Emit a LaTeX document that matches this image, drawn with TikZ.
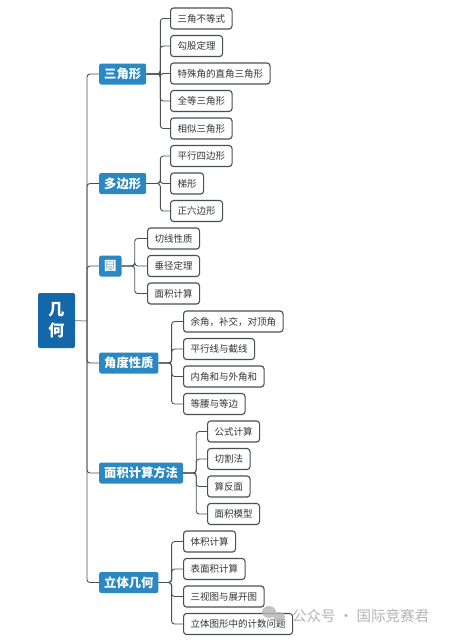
\documentclass[tikz,border=0pt]{standalone}
\usepackage{fontspec}
\setmainfont{Noto Sans CJK SC}
\definecolor{rootblue}{HTML}{1467A8}
\definecolor{mainblue}{HTML}{2A88C2}
\definecolor{boxgray}{HTML}{4A4F55}
\definecolor{markgray}{HTML}{B4B4B4}

\begin{document}
\begin{tikzpicture}[x=1pt,y=-1pt,
    root/.style={rectangle,rounded corners=2pt,fill=rootblue,text=white,font=\bfseries\fontsize{16}{21}\selectfont,minimum width=37pt,minimum height=55pt,align=center,inner sep=0pt},
    topic/.style={rectangle,rounded corners=2pt,fill=mainblue,text=white,font=\bfseries\fontsize{12.3}{14}\selectfont,minimum height=21pt,inner xsep=5pt,inner ysep=0pt,anchor=west},
    leaf/.style={rectangle,rounded corners=3pt,draw=boxgray,line width=1.1pt,fill=white,text=black!80,font=\fontsize{9.5}{11}\selectfont,minimum height=21pt,inner xsep=7pt,inner ysep=0pt,anchor=west},
    link/.style={draw=boxgray,line width=0.9pt,rounded corners=3pt},
    rootlink/.style={draw=black!40,line width=1pt}]
  \useasboundingbox (0,0) rectangle (453,641);

  % root and main branches
  \node[root] (g) at (56.5,320.5) {几\\何};
  \coordinate (hub) at (87,321);
  \node[topic] (t1) at (99,74) {三角形};
  \node[topic] (t2) at (99,183.5) {多边形};
  \node[topic] (t3) at (99,266) {圆};
  \node[topic] (t4) at (99,363) {角度性质};
  \node[topic] (t5) at (99,473) {面积计算方法};
  \node[topic] (t6) at (99,582.5) {立体几何};

  % leaves
  \node[leaf] (a1) at (170,18.5) {三角不等式};
  \node[leaf] (a2) at (170,46) {勾股定理};
  \node[leaf] (a3) at (170,73.5) {特殊角的直角三角形};
  \node[leaf] (a4) at (170,101) {全等三角形};
  \node[leaf] (a5) at (170,128.5) {相似三角形};

  \node[leaf] (b1) at (170,156) {平行四边形};
  \node[leaf] (b2) at (170,183.5) {梯形};
  \node[leaf] (b3) at (170,211) {正六边形};

  \node[leaf] (c1) at (147,238.5) {切线性质};
  \node[leaf] (c2) at (147,266) {垂径定理};
  \node[leaf] (c3) at (147,293.5) {面积计算};

  \node[leaf] (d1) at (183,321.5) {余角，补交，对顶角};
  \node[leaf] (d2) at (183,349) {平行线与截线};
  \node[leaf] (d3) at (183,376.5) {内角和与外角和};
  \node[leaf] (d4) at (183,404) {等腰与等边};

  \node[leaf] (e1) at (207,431.5) {公式计算};
  \node[leaf] (e2) at (207,459) {切割法};
  \node[leaf] (e3) at (207,486.5) {算反面};
  \node[leaf] (e4) at (207,514) {面积模型};

  \node[leaf] (f1) at (183,541.5) {体积计算};
  \node[leaf] (f2) at (183,569) {表面积计算};
  \node[leaf] (f3) at (183,596.5) {三视图与展开图};
  \node[leaf] (f4) at (183,624) {立体图形中的计数问题};

  % connectors
  \draw[rootlink] (g.east) -- (hub);
  \foreach \t in {t1,t2,t3,t4,t5,t6}
    \draw[link] (hub) |- (\t.west);
  \foreach \c in {a1,a2,a3,a4,a5}
    \draw[link] (t1.east) -- ++(14,0) |- (\c.west);
  \foreach \c in {b1,b2,b3}
    \draw[link] (t2.east) -- ++(14,0) |- (\c.west);
  \foreach \c in {c1,c2,c3}
    \draw[link] (t3.east) -- ++(13,0) |- (\c.west);
  \foreach \c in {d1,d2,d3,d4}
    \draw[link] (t4.east) -- ++(13,0) |- (\c.west);
  \foreach \c in {e1,e2,e3,e4}
    \draw[link] (t5.east) -- ++(13,0) |- (\c.west);
  \foreach \c in {f1,f2,f3,f4}
    \draw[link] (t6.east) -- ++(13,0) |- (\c.west);

  % watermark
  \fill[markgray,opacity=.8] (269,612) ellipse (7pt and 6pt);
  \fill[markgray,opacity=.8] (279,617) ellipse (6pt and 5pt);
  \node[font=\fontsize{14.5}{17}\selectfont,text=markgray,anchor=west,inner sep=0pt] (mark) at (292,616) {公众号 · 国际竞赛君};
\end{tikzpicture}
\end{document}
